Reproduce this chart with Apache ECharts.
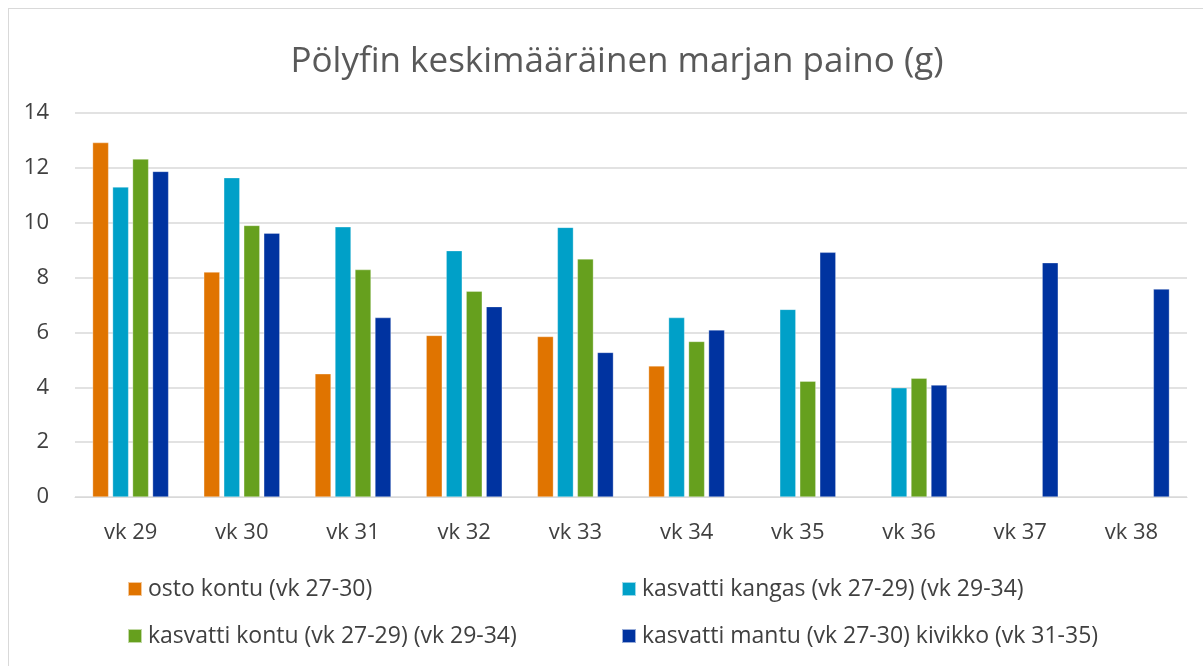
<!DOCTYPE html>
<html>
<head>
<meta charset="utf-8">
<script src="https://cdn.jsdelivr.net/npm/echarts@6/dist/echarts.min.js"></script>
<style>
html,body{margin:0;padding:0;background:#fff;}
#frame{position:absolute;left:8px;top:8px;width:1200px;height:670px;border:1px solid #d9d9d9;box-sizing:border-box;}
#chart{position:absolute;left:0;top:0;width:1203px;height:666px;}
</style>
</head>
<body>
<div id="frame"></div>
<div id="chart"></div>
<script>
var categories = ['vk 29','vk 30','vk 31','vk 32','vk 33','vk 34','vk 35','vk 36','vk 37','vk 38'];
var seriesNames = [
  'osto kontu (vk 27-30)',
  'kasvatti kangas (vk 27-29) (vk 29-34)',
  'kasvatti kontu (vk 27-29) (vk 29-34)',
  'kasvatti mantu (vk 27-30) kivikko (vk 31-35)'
];
var ostoKontu      = [12.92, 8.20, 4.49, 5.89, 5.85, 4.78, null, null, null, null];
var kasvattiKangas = [11.30, 11.64, 9.85, 8.98, 9.83, 6.54, 6.84, 3.98, null, null];
var kasvattiKontu  = [12.32, 9.90, 8.29, 7.50, 8.68, 5.67, 4.22, 4.33, null, null];
var kasvattiMantu  = [11.87, 9.62, 6.54, 6.94, 5.27, 6.09, 8.92, 4.08, 8.54, 7.58];
var yTicks = [0, 2, 4, 6, 8, 10, 12, 14];

var colors = ['#e07400', '#00a0c8', '#66a01e', '#0033a0'];
var font = '"Open Sans", "Noto Sans", sans-serif';
var seriesData = [ostoKontu, kasvattiKangas, kasvattiKontu, kasvattiMantu];

var chart = echarts.init(document.getElementById('chart'), null, {renderer: 'canvas'});

function legendAt(name, left, top) {
  return {
    data: [name], left: left, top: top,
    icon: 'rect', itemWidth: 14, itemHeight: 14, itemGap: 0,
    textStyle: {fontFamily: font, fontSize: 23, color: '#404040', lineHeight: 28, padding: [0, 0, 0, 1]},
    selectedMode: false, padding: 0
  };
}

chart.setOption({
  animation: false,
  color: colors,
  title: {
    text: 'Pölyfin keskimääräinen marjan paino (g)',
    left: 612, textAlign: 'center', top: 37,
    textStyle: {fontFamily: font, fontSize: 35, lineHeight: 40, fontWeight: 'normal', color: '#595959'}
  },
  legend: [
    legendAt(seriesNames[0], 127, 575),
    legendAt(seriesNames[1], 621, 575),
    legendAt(seriesNames[2], 127, 622),
    legendAt(seriesNames[3], 621, 622)
  ],
  grid: {left: 75, right: 16, top: 113, bottom: 169, containLabel: false},
  xAxis: {
    type: 'category', data: categories,
    axisLine: {lineStyle: {color: '#d9d9d9', width: 1}},
    axisTick: {show: false},
    axisLabel: {fontFamily: font, fontSize: 22, color: '#404040', margin: 25}
  },
  yAxis: {
    type: 'value', min: yTicks[0], max: yTicks[yTicks.length - 1], interval: 2,
    axisLine: {show: false}, axisTick: {show: false},
    axisLabel: {fontFamily: font, fontSize: 22, color: '#404040', margin: 26},
    splitLine: {lineStyle: {color: '#d9d9d9', width: 1.5}}
  },
  series: seriesData.map(function (d, i) {
    return {
      name: seriesNames[i], type: 'bar', data: d,
      barWidth: 16, barGap: '25%',
      itemStyle: {color: colors[i], borderColor: 'rgba(255,255,255,0.6)', borderWidth: 0.5}
    };
  })
});
</script>
</body>
</html>
